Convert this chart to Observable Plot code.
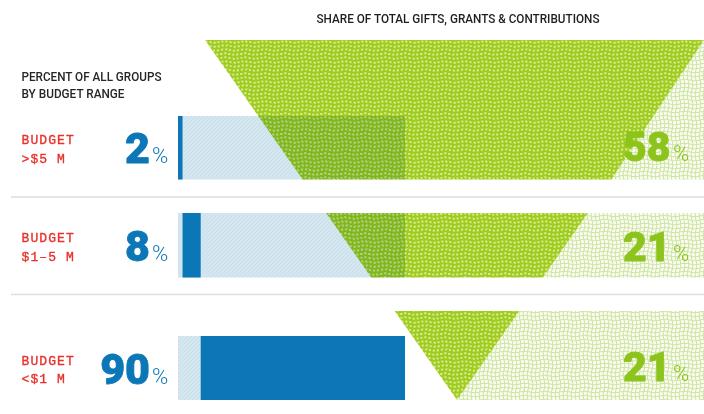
<!DOCTYPE html>
<html><head><meta charset="utf-8">
<script src="https://cdn.jsdelivr.net/npm/d3@7"></script>
<script src="https://cdn.jsdelivr.net/npm/@observablehq/plot@0.6"></script>
<style>
html,body{margin:0;padding:0;background:#fff}
svg{display:block}
</style>
</head><body><div id="chart"></div>
<script>
// ---- data ----
const budgetRanges = [">$5 M", "$1–5 M", "<$1 M"];
const budgetWord = "BUDGET";
const shareOfGroups = [2, 8, 90];          // percent of all groups
const shareOfGifts = [58, 21, 21];         // share of total gifts, grants & contributions
const leftTitle = ["PERCENT OF ALL GROUPS", "BY BUDGET RANGE"];
const rightTitle = "SHARE OF TOTAL GIFTS, GRANTS & CONTRIBUTIONS";

// ---- layout (pixels) ----
const W = 704, H = 414;
const trackPx = [178, 405];                 // where 0% and 100% sit
const rowTrackY = [[116, 179.5], [213, 277.5], [336, 400]];
const rowGreenY = [[40, 179.5], [213, 277.5], [311, 400]];
const rowBaseline = [162.5, 260, 383];
const rowGreenBaseline = [160.5, 260, 380.5];
const rowLabelY = [[143.5, 162.5], [241, 260], [364, 382.5]];
const separatorsY = [196.5, 294];
const funnel = {topY: 40, apexY: 400, leftPx: 205, rightPx: 709, apexPx: 457};
const leftTitleWidths = [140, 103];
const rightTitleWidth = 283;

const k = (trackPx[1] - trackPx[0]) / 100;
const px2x = px => (px - trackPx[0]) / k;
const xDomain = [px2x(0), px2x(W)];

// cumulative stacked bars
let acc = 0;
const rows = budgetRanges.map((r, i) => {
  const x1 = acc; acc += shareOfGroups[i];
  return {row: i, range: r, group: shareOfGroups[i], gift: shareOfGifts[i], x1, x2: acc,
          y1: rowTrackY[i][0], y2: rowTrackY[i][1], base: rowBaseline[i], gbase: rowGreenBaseline[i],
          l1: rowLabelY[i][0], l2: rowLabelY[i][1]};
});

const edgeL = y => funnel.leftPx + (funnel.apexPx - funnel.leftPx) * (y - funnel.topY) / (funnel.apexY - funnel.topY);
const edgeR = y => funnel.rightPx + (funnel.apexPx - funnel.rightPx) * (y - funnel.topY) / (funnel.apexY - funnel.topY);
const darkPts = [], lightPts = [];
rowGreenY.forEach(([a, b], i) => {
  for (const y of [a, b]) {
    darkPts.push({row: i, y, xl: px2x(edgeL(y)), xr: px2x(Math.min(edgeR(y), W))});
    lightPts.push({row: i, y, xl: px2x(Math.min(edgeR(y), W)), xr: xDomain[1]});
  }
});

const headFont = "Roboto, 'Liberation Sans', sans-serif";
const monoFont = "'Liberation Mono', 'DejaVu Sans Mono', monospace";
const numFont = "Roboto, Lato, 'Liberation Sans', sans-serif";
const blue = "#0b77b7", green = "#8cc41b", red = "#e8312b";

const plot = Plot.plot({
  width: W, height: H,
  margin: 0,
  x: {domain: xDomain, range: [0, W], axis: null},
  y: {domain: [0, H], range: [0, H], axis: null},
  marks: [
    Plot.ruleY(separatorsY, {x1: px2x(11), x2: xDomain[1], stroke: "#dedede", strokeWidth: 1.5}),
    // track
    Plot.rect(rows, {x1: 0, x2: 100, y1: "y1", y2: "y2", fill: "url(#hatch)"}),
    // bars
    Plot.rect(rows, {x1: "x1", x2: "x2", y1: "y1", y2: "y2", fill: blue}),
    // funnel
    Plot.areaX(lightPts, {y: "y", x1: "xl", x2: "xr", z: "row", fill: "url(#meshLight)", curve: "linear"}),
    Plot.areaX(darkPts, {y: "y", x1: "xl", x2: "xr", z: "row", fill: "url(#meshDark)", curve: "linear", mixBlendMode: "multiply"}),
    // titles
    Plot.text([rightTitle], {x: px2x(316), y: 22, text: d => d, textAnchor: "start", lineAnchor: "bottom",
      fontFamily: headFont, fontWeight: 500, fontSize: 12.5, fill: "#1e1e1e", ariaLabel: () => "title-right"}),
    Plot.text(leftTitle, {x: px2x(21), y: (d, i) => 80.5 + i * 16.5, text: d => d, textAnchor: "start", lineAnchor: "bottom",
      fontFamily: headFont, fontWeight: 500, fontSize: 12.5, fill: "#262626", ariaLabel: (d, i) => "title-left-" + i}),
    // red labels
    Plot.text(rows, {x: px2x(21), y: "l1", text: () => budgetWord, textAnchor: "start", lineAnchor: "bottom",
      fontFamily: monoFont, fontSize: 13, fill: red, stroke: red, strokeWidth: 0.35, ariaLabel: () => "budget"}),
    Plot.text(rows, {x: px2x(21), y: "l2", text: "range", textAnchor: "start", lineAnchor: "bottom",
      fontFamily: monoFont, fontSize: 13, fill: red, stroke: red, strokeWidth: 0.35, ariaLabel: () => "budget"}),
    // blue numbers
    Plot.text(rows, {x: px2x(149.5), y: "base", text: d => String(d.group), textAnchor: "end", lineAnchor: "bottom",
      fontFamily: numFont, fontWeight: 900, fontSize: 43, fill: blue, stroke: blue, strokeWidth: 0.8}),
    Plot.text(rows, {x: px2x(151.5), y: "base", text: () => "%", textAnchor: "start", lineAnchor: "bottom",
      fontFamily: numFont, fontWeight: 300, fontSize: 22, fill: blue}),
    // green numbers
    Plot.text(rows, {x: px2x(670), y: "gbase", text: d => String(d.gift), textAnchor: "end", lineAnchor: "bottom",
      fontFamily: numFont, fontWeight: 900, fontSize: 41, fill: green, stroke: green, strokeWidth: 0.8}),
    Plot.text(rows, {x: px2x(672.5), y: "gbase", text: () => "%", textAnchor: "start", lineAnchor: "bottom",
      fontFamily: numFont, fontWeight: 300, fontSize: 22, fill: green})
  ]
});

// patterns
function meshPath(size, step, amp) {
  let d = "";
  for (let y = 0; y <= size; y += step) d += `M0,${y} Q${size/4},${y-amp} ${size/2},${y} T${size},${y} `;
  for (let x = 0; x <= size; x += step) d += `M${x},0 Q${x+amp},${size/4} ${x},${size/2} T${x},${size} `;
  return d;
}
const defs = `<defs>
<pattern id="meshDark" patternUnits="userSpaceOnUse" width="20" height="20">
<rect width="20" height="20" fill="#d9ed91"/>
<path d="${meshPath(20, 4, 1.6)}" fill="none" stroke="#9fcc20" stroke-width="1.9"/>
</pattern>
<pattern id="meshLight" patternUnits="userSpaceOnUse" width="20" height="20">
<rect width="20" height="20" fill="#fbfdf5"/>
<path d="${meshPath(20, 4, 1.6)}" fill="none" stroke="#cfe5a3" stroke-width="1.1"/>
</pattern>
<pattern id="hatch" patternUnits="userSpaceOnUse" width="4" height="4">
<rect width="4" height="4" fill="#d4e7f0"/>
<path d="M-1,1 l2,-2 M0,4 l4,-4 M3,5 l2,-2" stroke="#c3dbe8" stroke-width="0.7"/>
</pattern>
</defs>`;
plot.insertAdjacentHTML("afterbegin", defs);

// fit condensed headings and space the red labels
const svg = d3.select(plot);
svg.selectAll('text[aria-label="title-right"]').attr("textLength", rightTitleWidth).attr("lengthAdjust", "spacingAndGlyphs");
leftTitleWidths.forEach((w, i) => svg.selectAll(`text[aria-label="title-left-${i}"]`).attr("textLength", w).attr("lengthAdjust", "spacingAndGlyphs"));
svg.selectAll('text[aria-label="budget"]').style("letter-spacing", "1.1px");

document.getElementById("chart").appendChild(plot);
</script>
</body></html>
